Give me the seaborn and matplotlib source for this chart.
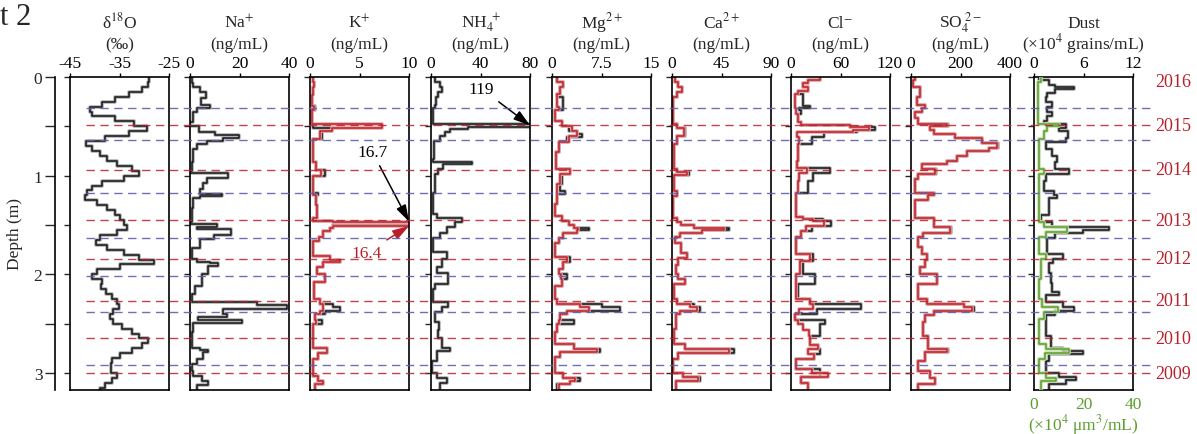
import matplotlib
matplotlib.use("Agg")
import matplotlib.pyplot as plt
import matplotlib.patheffects as pe
import seaborn as sns

sns.set_theme(style="ticks")
plt.rcParams["font.family"] = ["Liberation Serif", "DejaVu Serif"]
plt.rcParams["mathtext.fontset"] = "stix"

# ---------------- data (depth of sample top in m, value) ----------------
D18O_DEPTH = [0.00, 0.05, 0.10, 0.15, 0.20, 0.25, 0.30, 0.35, 0.40, 0.45,
              0.50, 0.55, 0.60, 0.65, 0.70, 0.75, 0.80, 0.85, 0.90, 0.95,
              1.00, 1.05, 1.10, 1.15, 1.20, 1.25, 1.30, 1.35, 1.40, 1.45,
              1.50, 1.55, 1.60, 1.65, 1.70, 1.75, 1.80, 1.85, 1.90, 1.95,
              2.00, 2.05, 2.10, 2.15, 2.20, 2.25, 2.30, 2.35, 2.40, 2.45,
              2.50, 2.55, 2.60, 2.65, 2.70, 2.75, 2.80, 2.85, 2.90, 2.95,
              3.00, 3.05, 3.10, 3.15]
D18O_VAL = [-29.0, -29.3, -30.5, -33.0, -36.0, -38.5, -41.0, -40.5, -36.0, -32.0,
            -29.5, -33.0, -38.0, -41.8, -40.5, -39.0, -37.5, -35.5, -32.5, -31.0,
            -34.0, -38.5, -40.5, -41.5, -42.0, -39.5, -37.5, -36.0, -34.8, -34.0,
            -33.4, -35.5, -39.0, -39.8, -37.5, -34.0, -31.0, -28.0, -35.0, -39.5,
            -40.5, -38.6, -38.8, -37.8, -36.5, -35.5, -35.2, -36.3, -37.0, -36.3,
            -34.5, -32.5, -31.0, -29.3, -30.5, -32.5, -35.0, -36.5, -36.8, -36.8,
            -35.6, -36.5, -38.0, -39.0]

NA_DEPTH = [0.00, 0.06, 0.10, 0.15, 0.21, 0.28, 0.31, 0.35, 0.46, 0.50,
            0.56, 0.59, 0.62, 0.65, 0.68, 0.73, 0.86, 0.95, 0.97, 1.02,
            1.07, 1.14, 1.19, 1.21, 1.23, 1.33, 1.47, 1.49, 1.52, 1.54,
            1.60, 1.64, 1.73, 1.84, 1.87, 1.89, 1.92, 2.00, 2.12, 2.20,
            2.28, 2.31, 2.35, 2.40, 2.43, 2.46, 2.49, 2.58, 2.75, 2.77,
            2.79, 2.86, 2.91, 2.98, 3.03, 3.08, 3.12]
NA_VAL = [0.7, 1.4, 4.0, 6.5, 4.5, 8.2, 2.7, 1.2, 0.2, 3.5,
          10.0, 19.6, 13.5, 6.8, 2.7, 1.4, 0.7, 0.1, 15.5, 6.8,
          5.4, 4.0, 12.8, 4.0, 1.4, 0.7, 0.1, 10.8, 2.7, 16.5,
          9.5, 4.0, 0.7, 2.7, 8.0, 11.5, 7.4, 4.7, 2.0, 0.7,
          27.0, 39.0, 13.5, 15.0, 3.4, 21.0, 1.4, 0.7, 4.0, 7.4,
          5.4, 2.7, 0.7, 1.4, 4.7, 7.4, 2.7]

K_RED_DEPTH = [0.00, 0.05, 0.10, 0.18, 0.29, 0.33, 0.48, 0.52, 0.55, 0.63,
               0.86, 0.94, 1.00, 1.20, 1.30, 1.43, 1.46, 1.47, 1.51, 1.53,
               1.56, 1.62, 1.66, 1.81, 1.85, 1.87, 1.93, 2.00, 2.08, 2.25,
               2.30, 2.37, 2.40, 2.46, 2.50, 2.75, 2.80, 2.86, 3.03, 3.08, 3.11]
K_RED_VAL = [0.3, 0.4, 0.3, 0.2, 0.4, 0.2, 7.3, 2.2, 1.0, 0.3,
             0.6, 1.1, 0.3, 0.6, 0.7, 0.3, 2.3, 16.4, 2.3, 2.0,
             1.3, 0.9, 0.3, 2.0, 3.0, 1.3, 0.7, 1.5, 0.4, 1.0,
             1.3, 1.0, 0.5, 0.6, 0.3, 1.7, 0.8, 0.3, 0.8, 1.3, 0.5]
K_BLK_DEPTH = [0.00, 0.05, 0.10, 0.18, 0.29, 0.33, 0.48, 0.52, 0.55, 0.63,
               0.86, 0.94, 1.00, 1.18, 1.20, 1.30, 1.43, 1.455, 1.465, 1.50,
               1.53, 1.56, 1.62, 1.66, 1.81, 1.85, 1.87, 1.93, 2.00, 2.08,
               2.25, 2.30, 2.33, 2.37, 2.40, 2.46, 2.50, 2.75, 2.80, 2.86,
               3.03, 3.08, 3.11]
K_BLK_VAL = [0.3, 0.4, 0.3, 0.2, 0.5, 0.2, 0.3, 2.2, 1.2, 0.3,
             0.6, 1.5, 0.3, 0.8, 0.6, 0.7, 0.3, 2.3, 16.7, 2.3,
             2.0, 1.3, 0.9, 0.3, 2.0, 3.0, 1.3, 0.7, 1.5, 0.4,
             1.0, 2.3, 3.0, 1.5, 0.5, 1.2, 0.3, 1.7, 0.8, 0.3,
             0.8, 1.3, 0.5]

NH4_DEPTH = [0.00, 0.05, 0.10, 0.15, 0.20, 0.28, 0.31, 0.48, 0.51, 0.53,
             0.56, 0.60, 0.65, 0.83, 0.86, 0.88, 0.93, 0.98, 1.18, 1.39,
             1.43, 1.47, 1.52, 1.58, 1.63, 1.77, 1.84, 1.93, 1.99, 2.10,
             2.15, 2.28, 2.33, 2.38, 2.48, 2.56, 2.65, 2.75, 2.78, 2.88,
             3.00, 3.05, 3.10]
NH4_VAL = [3.2, 7.3, 8.6, 6.0, 4.0, 3.2, 1.3, 119, 30, 15.4,
           11.3, 7.3, 2.5, 1.5, 33, 10, 6, 3.2, 1.3, 4.6,
           25, 19.4, 12.7, 7.3, 1.9, 12.7, 8.6, 4.6, 14, 3.2,
           1.9, 14, 8.6, 3.2, 6.7, 5.5, 8.6, 15.4, 4.6, 0.5,
           4.6, 12.7, 7.3]

MG_RED_DEPTH = [0.00, 0.05, 0.10, 0.17, 0.30, 0.33, 0.45, 0.50, 0.55, 0.60,
                0.66, 0.76, 0.93, 0.98, 1.08, 1.19, 1.29, 1.41, 1.46, 1.50,
                1.53, 1.55, 1.58, 1.63, 1.68, 1.82, 1.88, 1.95, 2.00, 2.05,
                2.12, 2.25, 2.30, 2.33, 2.37, 2.40, 2.46, 2.50, 2.58, 2.71,
                2.76, 2.79, 2.84, 3.00, 3.05, 3.08, 3.11]
MG_RED_VAL = [0.7, 1.7, 1.2, 0.7, 1.0, 0.5, 1.5, 3.0, 3.8, 2.5,
              1.1, 0.6, 2.8, 1.2, 0.7, 0.7, 0.5, 1.5, 2.5, 3.3,
              4.0, 3.8, 1.7, 1.0, 0.5, 2.2, 1.7, 1.0, 1.4, 1.5,
              0.5, 0.7, 4.3, 5.6, 2.2, 1.2, 1.0, 0.7, 0.5, 3.3,
              6.8, 1.2, 0.5, 1.7, 3.5, 2.8, 1.0]
MG_BLK_DEPTH = [0.00, 0.05, 0.10, 0.17, 0.20, 0.30, 0.33, 0.45, 0.50, 0.55,
                0.58, 0.61, 0.66, 0.76, 0.93, 0.98, 1.08, 1.16, 1.19, 1.29,
                1.41, 1.46, 1.50, 1.53, 1.55, 1.58, 1.63, 1.68, 1.82, 1.88,
                1.95, 2.00, 2.05, 2.12, 2.25, 2.30, 2.33, 2.37, 2.40, 2.46,
                2.50, 2.58, 2.71, 2.76, 2.79, 2.84, 3.00, 3.05, 3.08, 3.11]
MG_BLK_VAL = [0.7, 1.7, 1.2, 0.7, 1.7, 1.7, 0.5, 1.5, 2.5, 3.8,
              4.5, 2.2, 1.1, 0.6, 2.8, 1.5, 1.2, 2.0, 0.7, 0.5,
              1.5, 2.5, 3.3, 5.6, 3.8, 1.7, 1.0, 0.5, 2.8, 1.7,
              1.0, 2.2, 1.5, 0.5, 0.7, 7.6, 10.3, 2.2, 1.2, 3.3,
              0.7, 0.5, 3.3, 7.3, 1.2, 0.5, 1.7, 4.3, 2.8, 0.8]

CA_DEPTH = [0.00, 0.05, 0.10, 0.15, 0.20, 0.48, 0.52, 0.60, 0.68, 0.93,
            0.96, 0.99, 1.16, 1.21, 1.43, 1.47, 1.50, 1.53, 1.55, 1.58,
            1.62, 1.68, 1.78, 1.83, 1.91, 2.00, 2.05, 2.10, 2.25, 2.30,
            2.33, 2.37, 2.40, 2.55, 2.71, 2.76, 2.80, 2.86, 3.00, 3.04, 3.08]
CA_RED_VAL = [2.8, 5.8, 8.9, 4.3, 1.2, 4.3, 11.0, 4.3, 1.8, 4.3,
              13.5, 1.8, 4.3, 1.2, 4.3, 8.0, 19.6, 47.0, 27.0, 7.3,
              2.8, 8.0, 13.5, 5.8, 3.7, 5.0, 12.0, 1.8, 4.3, 16.0,
              22.6, 7.3, 3.5, 1.8, 12.0, 51.7, 5.8, 1.2, 10.4, 24.0, 3.7]
CA_BLK_VAL = [2.8, 5.8, 8.9, 4.3, 1.2, 4.3, 12.0, 4.3, 1.8, 4.3,
              15.0, 1.8, 4.3, 1.2, 4.3, 8.0, 19.6, 51.7, 27.0, 7.3,
              2.8, 8.0, 13.5, 5.8, 3.7, 5.0, 12.0, 1.8, 4.3, 19.6,
              25.7, 7.3, 3.5, 1.8, 12.0, 56.0, 5.8, 1.2, 10.4, 25.7, 3.7]

CL_RED_DEPTH = [0.00, 0.03, 0.06, 0.10, 0.14, 0.17, 0.31, 0.37, 0.46, 0.49,
                0.51, 0.54, 0.56, 0.61, 0.68, 0.85, 0.92, 0.97, 1.05, 1.18,
                1.42, 1.44, 1.46, 1.51, 1.56, 1.62, 1.79, 1.86, 2.00, 2.25,
                2.30, 2.35, 2.40, 2.46, 2.50, 2.56, 2.62, 2.72, 2.76, 2.81,
                2.86, 2.96, 3.00, 3.04, 3.10]
CL_RED_VAL = [35, 20, 15, 21, 9, 5, 6, 9, 12, 71,
              95, 75, 7, 10, 8, 7, 19, 10, 8, 6,
              15, 27, 40, 18, 12, 6, 23, 11, 6, 23,
              27, 10, 5, 8, 15, 22, 23, 33, 20, 28,
              6, 25, 45, 12, 20]
CL_BLK_DEPTH = [0.00, 0.03, 0.06, 0.10, 0.14, 0.17, 0.29, 0.31, 0.33, 0.37,
                0.46, 0.49, 0.51, 0.54, 0.56, 0.61, 0.68, 0.85, 0.92, 0.97,
                1.05, 1.18, 1.42, 1.44, 1.46, 1.51, 1.56, 1.62, 1.79, 1.86,
                2.00, 2.10, 2.25, 2.30, 2.35, 2.40, 2.46, 2.50, 2.62, 2.72,
                2.76, 2.81, 2.86, 2.96, 3.04, 3.10]
CL_BLK_VAL = [35, 20, 15, 21, 9, 14, 23, 10, 12, 9,
              12, 71, 102, 80, 40, 25, 8, 7, 47, 27,
              20, 6, 15, 39, 49, 25, 12, 6, 27, 14,
              29, 8, 23, 85, 31, 5, 41, 35, 23, 33,
              35, 28, 6, 35, 12, 20]

SO4_DEPTH = [0.00, 0.03, 0.10, 0.20, 0.28, 0.31, 0.35, 0.42, 0.48, 0.50,
             0.54, 0.58, 0.62, 0.67, 0.72, 0.75, 0.80, 0.85, 0.88, 0.93,
             0.98, 1.03, 1.18, 1.20, 1.25, 1.43, 1.52, 1.58, 1.62, 1.72,
             1.79, 1.85, 1.93, 2.00, 2.10, 2.25, 2.30, 2.33, 2.37, 2.41,
             2.48, 2.62, 2.76, 2.79, 2.88, 2.98, 3.05, 3.11]
SO4_RED_VAL = [16, 9, 37, 23, 57, 43, 16, 30, 145, 77,
               91, 179, 287, 348, 315, 226, 186, 145, 43, 98,
               30, 16, 91, 70, 16, 91, 159, 50, 30, 43,
               64, 57, 37, 104, 30, 64, 213, 247, 91, 57,
               50, 70, 145, 57, 30, 77, 98, 30]
SO4_BLK_VAL = [16, 9, 37, 23, 57, 43, 16, 30, 150, 77,
               91, 179, 287, 350, 315, 226, 186, 145, 43, 100,
               30, 16, 91, 70, 16, 91, 162, 50, 30, 43,
               64, 57, 37, 106, 30, 64, 213, 255, 91, 57,
               50, 70, 150, 57, 30, 77, 98, 30]

DUST_DEPTH = [0.00, 0.03, 0.08, 0.10, 0.12, 0.16, 0.20, 0.25, 0.30, 0.35,
              0.40, 0.45, 0.48, 0.52, 0.55, 0.62, 0.66, 0.73, 0.80, 0.86,
              0.93, 0.98, 1.05, 1.16, 1.20, 1.23, 1.40, 1.47, 1.52, 1.55,
              1.58, 1.63, 1.79, 1.84, 1.89, 1.99, 2.09, 2.18, 2.21, 2.28,
              2.33, 2.37, 2.41, 2.62, 2.75, 2.78, 2.81, 2.88, 3.00, 3.04,
              3.07, 3.11]
DUST_NUM = [0.6, 1.8, 2.6, 4.9, 2.6, 1.6, 1.4, 2.2, 1.6, 2.2,
            1.6, 1.2, 3.9, 3.0, 4.1, 3.9, 1.5, 2.2, 2.8, 2.6,
            4.3, 1.4, 1.2, 2.4, 2.8, 1.8, 0.8, 2.2, 9.1, 5.9,
            2.6, 1.6, 3.5, 2.3, 1.8, 2.0, 2.2, 3.0, 1.4, 3.5,
            4.9, 2.6, 1.4, 2.0, 3.5, 5.9, 1.8, 1.4, 3.0, 5.1,
            3.9, 1.8]
DUST_VOL_DEPTH = [0.00, 0.05, 0.30, 0.48, 0.50, 0.55, 0.63, 0.93, 0.98, 1.47,
                  1.52, 1.57, 1.62, 1.79, 1.84, 2.05, 2.25, 2.33, 2.38, 2.45,
                  2.71, 2.76, 2.80, 2.86, 3.00, 3.05, 3.08]
DUST_VOL = [2.7, 1.8, 1.5, 10.0, 5.4, 4.2, 2.0, 4.0, 2.2, 4.0,
            13.5, 5.0, 2.2, 5.0, 2.7, 2.0, 3.4, 9.5, 4.0, 2.0,
            4.7, 14.2, 4.5, 2.0, 4.7, 8.8, 2.7]

RED_LINES = [0.49, 0.94, 1.45, 1.84, 2.27, 2.65, 3.00]
BLUE_LINES = [0.31, 0.64, 1.18, 1.63, 2.02, 2.38, 2.92]
YEARS = ["2016", "2015", "2014", "2013", "2012", "2011", "2010", "2009"]
YEAR_DEPTH = [0.05, 0.49, 0.94, 1.45, 1.84, 2.27, 2.65, 3.00]

# ---------------- layout ----------------
W, H = 1197, 435
TOP, BOT = 78, 391
PX_PER_M = 98.67
YMAX = (BOT - TOP) / PX_PER_M
PW = 99

RED = "#b8212b"
BLUE = "#5f5fab"
GREEN = "#5c9e2e"
BLK = "#151515"
FS = 12.5

fig = plt.figure(figsize=(W / 100, H / 100), dpi=100)


def rect(left, width):
    return [left / W, 1 - BOT / H, width / W, (BOT - TOP) / H]


def step(ax, depth, vals, color, halo):
    y = list(depth) + [YMAX]
    x = list(vals) + [vals[-1]]
    sns.lineplot(x=x, y=y, ax=ax, orient="y", sort=False, estimator=None,
                 drawstyle="steps-pre", color=color, lw=1.1,
                 path_effects=[pe.Stroke(linewidth=2.6, foreground=halo), pe.Normal()])


panels = [
    (70, -45, -25, [-45, -35, -25], ["-45", "-35", "-25"], r"δ$^{18}$O", "(‰)"),
    (190, 0, 40, [0, 20, 40], ["0", "20", "40"], r"Na$^{+}$", "(ng/mL)"),
    (310, 0, 10, [0, 5, 10], ["0", "5", "10"], r"K$^{+}$", "(ng/mL)"),
    (431, 0, 80, [0, 40, 80], ["0", "40", "80"], r"NH$_4^{\ +}$", "(ng/mL)"),
    (552, 0, 15, [0, 7.5, 15], ["0", "7.5", "15"], r"Mg$^{2+}$", "(ng/mL)"),
    (672, 0, 90, [0, 45, 90], ["0", "45", "90"], r"Ca$^{2+}$", "(ng/mL)"),
    (791, 0, 120, [0, 60, 120], ["0", "60", "120"], "Cl⁻", "(ng/mL)"),
    (911, 0, 400, [0, 200, 400], ["0", "200", "400"], r"SO$_4^{\ 2-}$", "(ng/mL)"),
    (1034, 0, 12, [0, 6, 12], ["0", "6", "12"], "Dust", r"(×10$^4$ grains/mL)"),
]

axes = []
for left, lo, hi, ticks, labels, t1, t2 in panels:
    ax = fig.add_axes(rect(left, PW))
    ax.set_facecolor("none")
    axes.append(ax)
    cx = (left + PW / 2) / W
    fig.text(cx, 1 - 28 / H, t1, ha="center", va="baseline", fontsize=FS)
    fig.text(cx, 1 - 49 / H, t2, ha="center", va="baseline", fontsize=FS)

# dust volume on a green bottom axis (twin made first so the top ticks stay on top)
ax_v = axes[-1].twiny()

series = [
    [(D18O_DEPTH, D18O_VAL, BLK, "#b0b0b0")],
    [(NA_DEPTH, NA_VAL, BLK, "#b0b0b0")],
    [(K_BLK_DEPTH, K_BLK_VAL, BLK, "#b0b0b0"), (K_RED_DEPTH, K_RED_VAL, RED, "#eaa8a8")],
    [(NH4_DEPTH, NH4_VAL, BLK, "#b0b0b0")],
    [(MG_BLK_DEPTH, MG_BLK_VAL, BLK, "#b0b0b0"), (MG_RED_DEPTH, MG_RED_VAL, RED, "#eaa8a8")],
    [(CA_DEPTH, CA_BLK_VAL, BLK, "#b0b0b0"), (CA_DEPTH, CA_RED_VAL, RED, "#eaa8a8")],
    [(CL_BLK_DEPTH, CL_BLK_VAL, BLK, "#b0b0b0"), (CL_RED_DEPTH, CL_RED_VAL, RED, "#eaa8a8")],
    [(SO4_DEPTH, SO4_BLK_VAL, BLK, "#b0b0b0"), (SO4_DEPTH, SO4_RED_VAL, RED, "#eaa8a8")],
    [(DUST_DEPTH, DUST_NUM, BLK, "#b0b0b0")],
]

for ax, (left, lo, hi, ticks, labels, t1, t2), ser in zip(axes, panels, series):
    for d, v, c, h in ser:
        step(ax, d, v, c, h)
    ax.set_xlim(lo, hi)
    ax.set_ylim(YMAX, 0)
    ax.xaxis.tick_top()
    ax.set_xticks(ticks)
    ax.set_xticklabels(labels)
    ax.set_yticks([0, 0.5, 1, 1.5, 2, 2.5, 3])
    ax.set_yticklabels([])
    ax.set_xlabel("")
    ax.set_ylabel("")
    ax.tick_params(axis="x", direction="out", length=3, width=1, pad=1.5,
                   labelsize=FS, colors="black", top=True, bottom=False,
                   labeltop=True, labelbottom=False)
    ax.tick_params(axis="y", direction="out", length=4, width=1, left=True, right=False)
    for s in ax.spines.values():
        s.set_visible(True)
        s.set_color("black")
        s.set_linewidth(1.2)

step(ax_v, DUST_VOL_DEPTH, DUST_VOL, GREEN, "#c6e0b0")
ax_v.set_xlim(0, 40)
ax_v.set_ylim(YMAX, 0)
ax_v.xaxis.set_ticks_position("bottom")
ax_v.set_xticks([0, 20, 40])
ax_v.set_xticklabels(["0", "20", "40"])
ax_v.set_xlabel("")
ax_v.set_ylabel("")
ax_v.tick_params(axis="x", length=0, pad=4, labelsize=FS, labelcolor=GREEN,
                 top=False, labeltop=False, bottom=True, labelbottom=True)
ax_v.tick_params(axis="y", left=False, right=False, labelleft=False, labelright=False)
for s in ax_v.spines.values():
    s.set_visible(False)
fig.text((1034 + PW / 2) / W, 1 - 430 / H, r"(×10$^4$ μm$^3$/mL)", ha="center",
         va="baseline", fontsize=FS, color=GREEN)

# annotations for off-scale values
arrow = "-|>,head_length=0.8,head_width=0.25"
axes[2].annotate("16.7", xy=(10, 1.465), xytext=(6.3, 0.76), ha="center", va="center",
                 fontsize=FS, color="black", annotation_clip=False,
                 arrowprops=dict(arrowstyle=arrow, color="black", lw=1.1, shrinkA=2, shrinkB=0))
axes[2].annotate("16.4", xy=(10, 1.51), xytext=(5.7, 1.78), ha="center", va="center",
                 fontsize=FS, color=RED, annotation_clip=False,
                 arrowprops=dict(arrowstyle=arrow, color=RED, lw=1.1, shrinkA=2, shrinkB=0))
axes[3].annotate("119", xy=(80, 0.49), xytext=(40.8, 0.12), ha="center", va="center",
                 fontsize=FS, color="black", annotation_clip=False,
                 arrowprops=dict(arrowstyle=arrow, color="black", lw=1.1, shrinkA=2, shrinkB=0))

# depth axis
ax_z = fig.add_axes(rect(55, 0.5))
ax_z.set_facecolor("none")
ax_z.set_ylim(YMAX, 0)
ax_z.set_xticks([])
ax_z.set_yticks([0, 1, 2, 3])
ax_z.set_yticklabels(["0", "1", "2", "3"])
ax_z.set_yticks([0.5, 1.5, 2.5], minor=True)
ax_z.tick_params(axis="y", which="both", direction="out", length=7, width=1,
                 pad=2, labelsize=FS)
for k in ["top", "right", "bottom"]:
    ax_z.spines[k].set_visible(False)
ax_z.spines["left"].set_linewidth(1.2)
ax_z.spines["left"].set_color("black")
ax_z.set_ylabel("Depth (m)", fontsize=FS, labelpad=8)

# dashed year markers across all panels
ax_o = fig.add_axes([0, 1 - BOT / H, 1, (BOT - TOP) / H], zorder=10)
ax_o.set_xlim(0, W)
ax_o.set_ylim(YMAX, 0)
ax_o.axis("off")
ax_o.patch.set_alpha(0)
ax_o.hlines(RED_LINES, 86, 1150, colors=RED, linestyles=(0, (6, 4)), lw=1.0, alpha=0.85)
ax_o.hlines(BLUE_LINES, 86, 1150, colors=BLUE, linestyles=(0, (6, 4)), lw=1.0, alpha=0.9)
for yr, d in zip(YEARS, YEAR_DEPTH):
    ax_o.text(1155, d, yr, ha="left", va="center", fontsize=13, color=RED)

fig.text(0.0, 1 - 3 / H, "t 2", ha="left", va="top", fontsize=22)

fig.savefig("out.png", dpi=100)
